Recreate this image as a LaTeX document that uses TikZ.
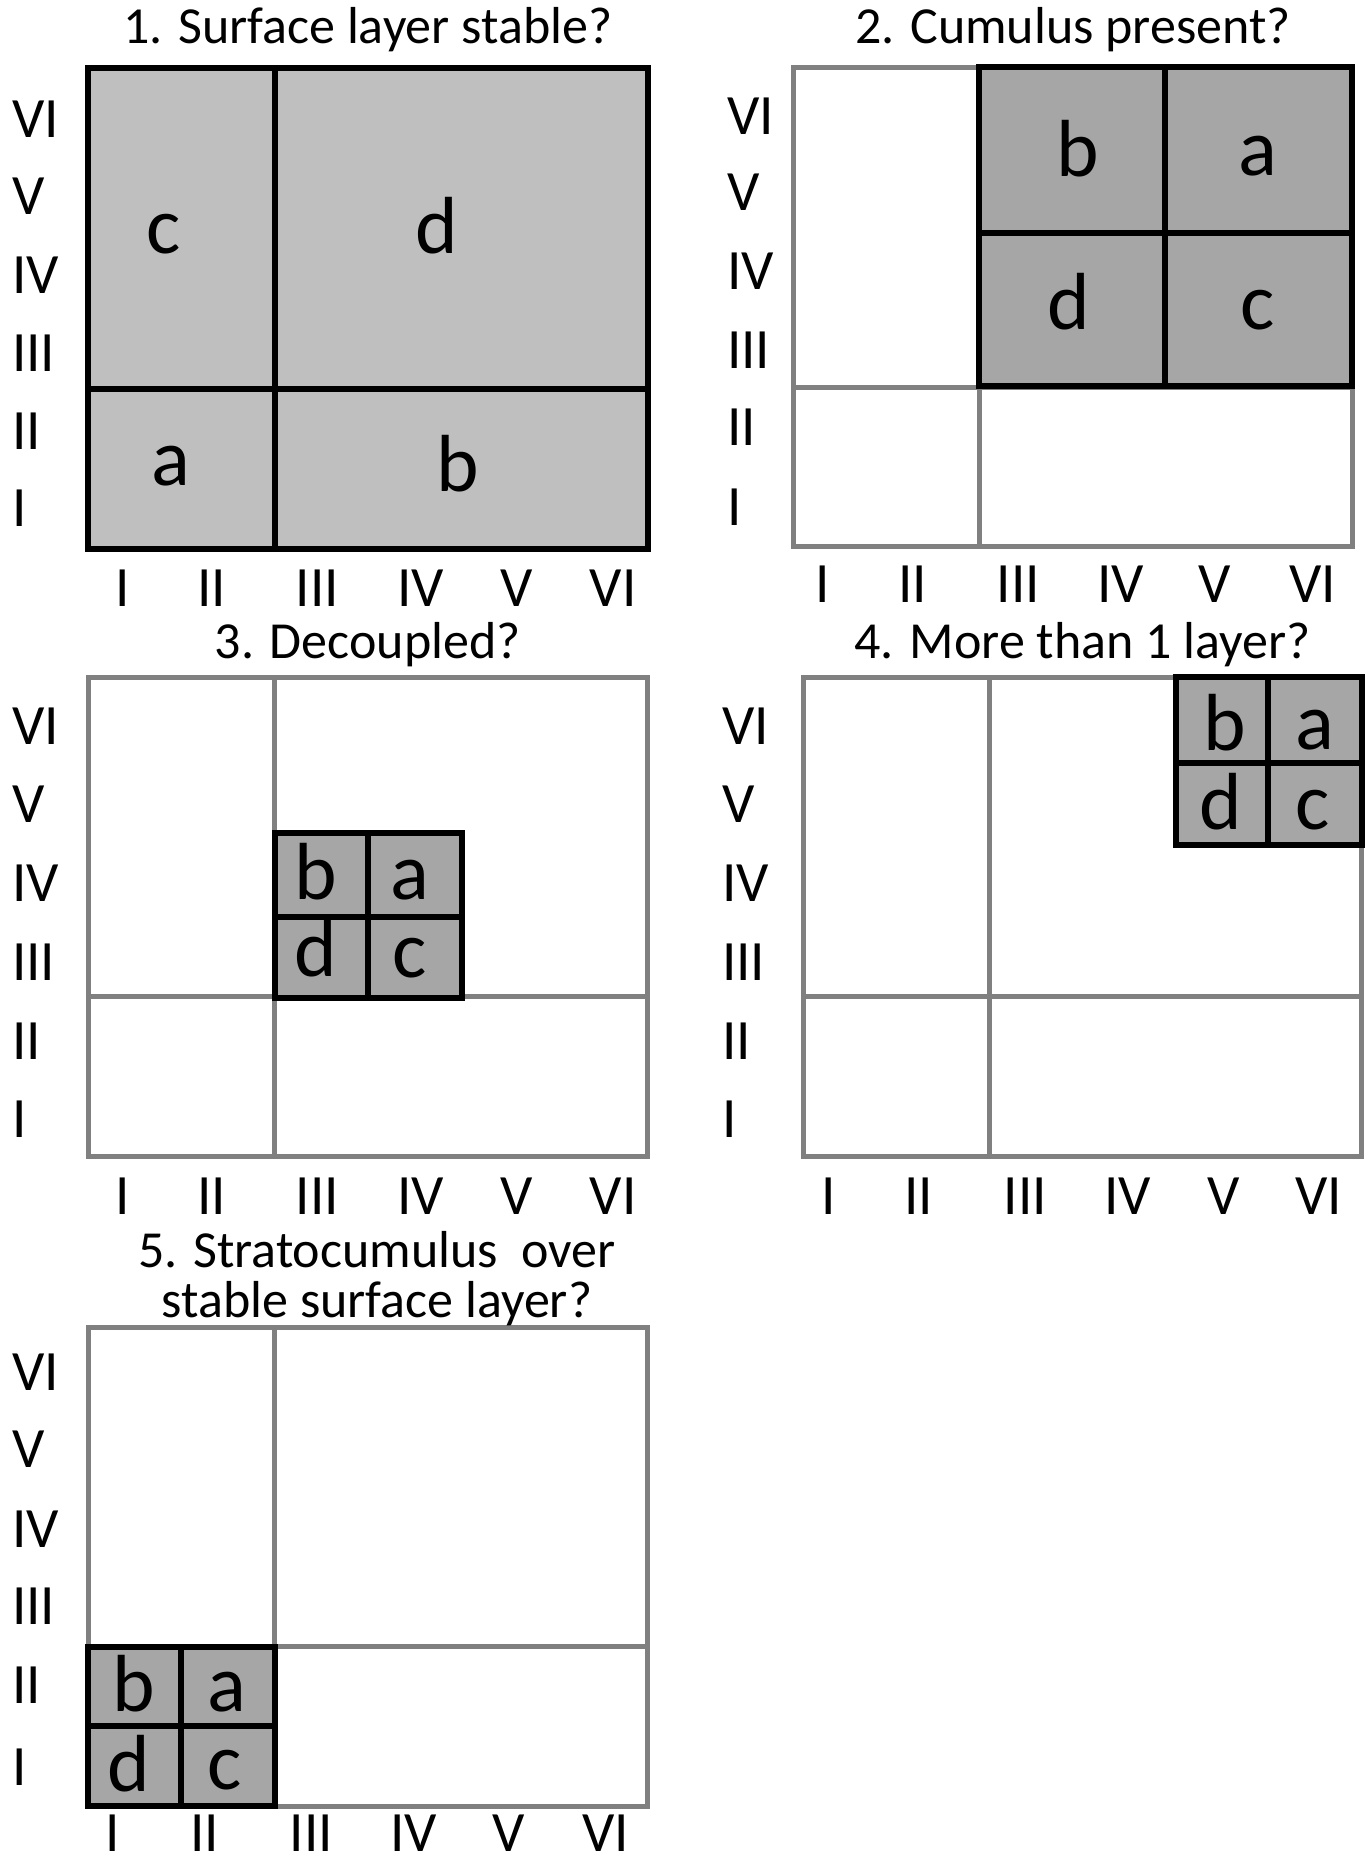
\documentclass[tikz,border=0pt]{standalone}
\usepackage{fontspec}
\setmainfont{Carlito}
\definecolor{lightfill}{HTML}{BFBFBF}
\definecolor{darkfill}{HTML}{A6A6A6}
\definecolor{gridgray}{HTML}{808080}
\begin{document}
\begin{tikzpicture}[x=1pt,y=-1pt,
  ttl/.style={font=\fontsize{52}{52}\selectfont, anchor=base, inner sep=0pt},
  ylab/.style={font=\fontsize{57}{57}\selectfont, anchor=west, inner sep=0pt},
  xlab/.style={font=\fontsize{57}{57}\selectfont, anchor=center, inner sep=0pt},
  cell/.style={font=\fontsize{81}{81}\selectfont, anchor=base, inner sep=0pt},
  gridline/.style={draw=gridgray, line width=5pt},
  boldline/.style={draw=black, line width=6pt},
  darkbox/.style={fill=darkfill, draw=black, line width=6pt}]
\fill[white] (0,0) rectangle (1370,1863);
\useasboundingbox (0,0) rectangle (1370,1863);

% ---------- Panel 1 ----------
\fill[lightfill] (88,67.7) rectangle (647.6,549);
\draw[boldline] (88,67.7) rectangle (647.6,549);
\draw[boldline] (274.5,67.7) -- (274.5,549);
\draw[boldline] (88,388.5) -- (647.6,388.5);
\node[ttl] (t1) at (367.8,43) {1. Surface layer stable?};
\node[cell] (p1c) at (164,253) {c};
\node[cell] (p1d) at (436.5,253) {d};
\node[cell] (p1a) at (170.5,485.5) {a};
\node[cell] (p1b) at (458,491) {b};
\foreach \t/\y [count=\i] in {VI/118.8,V/196,IV/275.7,III/352.9,II/431.3,I/508.5}
  \node[ylab] (p1y\i) at (12,\y) {\t};
\foreach \t/\x [count=\i] in {I/122.4,II/211.5,III/317.2,IV/420.6,V/516.9,VI/613.1}
  \node[xlab] (p1x\i) at (\x,588) {\t};

% ---------- Panel 2 ----------
\draw[gridline] (793.7,67) rectangle (1352,546.6);
\draw[gridline] (979,67) -- (979,546.6);
\draw[gridline] (793.7,387) -- (1352,387);
\draw[darkbox] (979,67) rectangle (1352,386);
\draw[boldline] (1165,67) -- (1165,386);
\draw[boldline] (979,232.7) -- (1352,232.7);
\node[ttl] (t2) at (1073,43) {2. Cumulus present?};
\node[cell] (p2b) at (1077.5,176) {b};
\node[cell] (p2a) at (1258.3,175.5) {a};
\node[cell] (p2d) at (1068.3,329.3) {d};
\node[cell] (p2c) at (1258,329) {c};
\foreach \t/\y [count=\i] in {VI/116.4,V/192.5,IV/270.9,III/350.5,II/427.7,I/507.4}
  \node[ylab] (p2y\i) at (727,\y) {\t};
\foreach \t/\x [count=\i] in {I/822.2,II/912.5,III/1018.3,IV/1120.5,V/1214.3,VI/1313}
  \node[xlab] (p2x\i) at (\x,584) {\t};

% ---------- Panel 3 ----------
\draw[gridline] (88,677.3) rectangle (647.6,1156);
\draw[gridline] (274.5,677.3) -- (274.5,1156);
\draw[gridline] (88,996) -- (647.6,996);
\draw[darkbox] (274.5,832.5) rectangle (461.7,998);
\draw[boldline] (367.7,832.5) -- (367.7,998);
\draw[boldline] (274.5,916.7) -- (461.7,916.7);
\node[ttl] (t3) at (367.8,658) {3. Decoupled?};
\node[cell] (p3b) at (316,899.3) {b};
\node[cell] (p3a) at (410,899) {a};
\node[cell] (p3d) at (315.5,976.7) {d};
\node[cell] (p3c) at (410,977) {c};
\foreach \t/\y [count=\i] in {VI/726,V/804.4,IV/882.8,III/962.4,II/1040.9,I/1119.3}
  \node[ylab] (p3y\i) at (12,\y) {\t};
\foreach \t/\x [count=\i] in {I/122.4,II/211.5,III/317.2,IV/420.6,V/516.9,VI/613.1}
  \node[xlab] (p3x\i) at (\x,1196.5) {\t};

% ---------- Panel 4 ----------
\draw[gridline] (803.2,677.3) rectangle (1361.7,1156);
\draw[gridline] (989.5,677.3) -- (989.5,1156);
\draw[gridline] (803.2,996) -- (1361.7,996);
\draw[darkbox] (1175.5,677.3) rectangle (1361.7,845);
\draw[boldline] (1268.3,677.3) -- (1268.3,845);
\draw[boldline] (1175.5,762.8) -- (1361.7,762.8);
\node[ttl] (t4) at (1082.5,658) {4. More than 1 layer?};
\node[cell] (p4b) at (1224.7,750) {b};
\node[cell] (p4a) at (1314.5,749.5) {a};
\node[cell] (p4d) at (1220.5,829) {d};
\node[cell] (p4c) at (1312.5,829) {c};
\foreach \t/\y [count=\i] in {VI/726,V/804.4,IV/882.8,III/962.4,II/1040.9,I/1119.3}
  \node[ylab] (p4y\i) at (722,\y) {\t};
\foreach \t/\x [count=\i] in {I/828.2,II/918.5,III/1025.4,IV/1127.6,V/1223.8,VI/1318.9}
  \node[xlab] (p4x\i) at (\x,1196.5) {\t};

% ---------- Panel 5 ----------
\draw[gridline] (88,1327.2) rectangle (647.6,1806);
\draw[gridline] (274.5,1327.2) -- (274.5,1806);
\draw[gridline] (88,1646.5) -- (647.6,1646.5);
\draw[darkbox] (88,1646.5) rectangle (274.5,1806);
\draw[boldline] (181,1646.5) -- (181,1806);
\draw[boldline] (88,1726.3) -- (274.5,1726.3);
\node[ttl] (t5a) at (377,1267) {5. Stratocumulus\ \ over};
\node[ttl] (t5b) at (377,1317) {stable surface layer?};
\node[cell] (p5b) at (134,1711.5) {b};
\node[cell] (p5a) at (226.5,1711.5) {a};
\node[cell] (p5d) at (129,1791) {d};
\node[cell] (p5c) at (225,1789) {c};
\foreach \t/\y [count=\i] in {VI/1372.4,V/1449.6,IV/1529.2,III/1606.4,II/1684.9,I/1766.8}
  \node[ylab] (p5y\i) at (12,\y) {\t};
\foreach \t/\x [count=\i] in {I/112.9,II/204.4,III/311.3,IV/413.5,V/508.5,VI/606}
  \node[xlab] (p5x\i) at (\x,1833) {\t};
\end{tikzpicture}
\end{document}
